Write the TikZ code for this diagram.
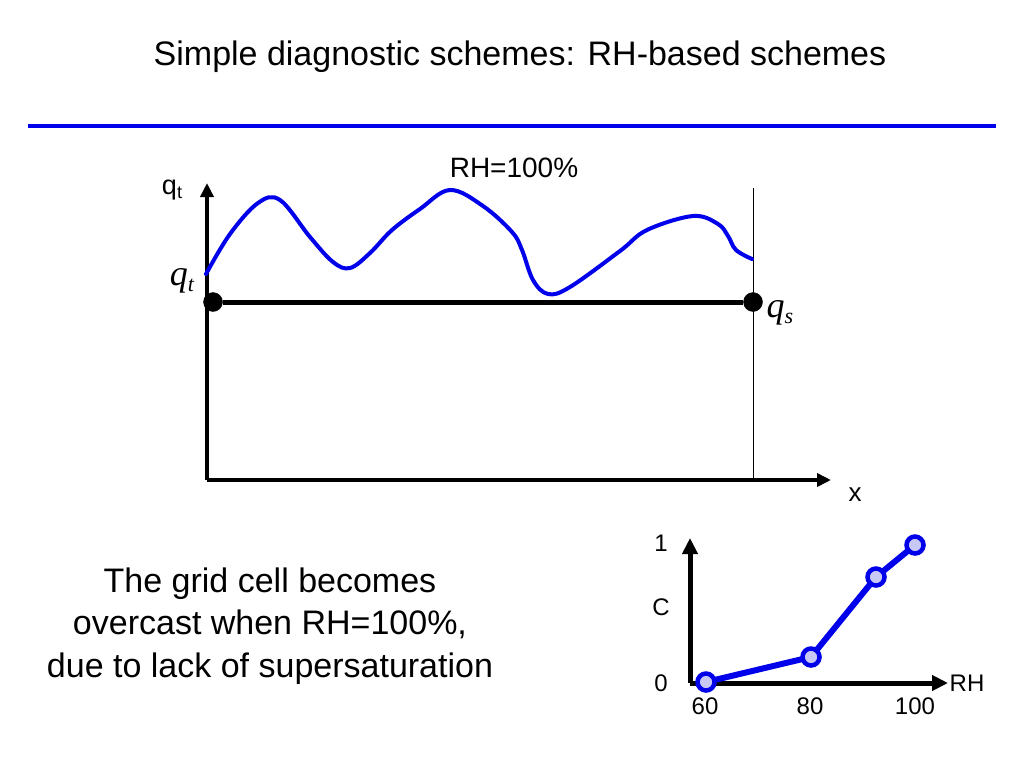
\documentclass[tikz,border=0pt]{standalone}
\usepackage{fontspec}
\setmainfont{Liberation Sans}
\newfontfamily\timesfont{Liberation Serif}
\usetikzlibrary{arrows.meta}
\definecolor{lineblue}{RGB}{0,0,235}
\definecolor{dotfill}{RGB}{200,200,245}

\begin{document}
\begin{tikzpicture}[x=1pt,y=-1pt]
\useasboundingbox (0,0) rectangle (1024,768);
\node(title) at (520,57){\fontsize{34}{40}\selectfont Simple diagnostic schemes: RH-based schemes};
\draw[lineblue, line width=4pt] (28,126) -- (996,126);
% big axes
\coordinate(o) at (207,480);
\coordinate(ytip) at (207,183);
\coordinate(xtip) at (831,480);
\draw[line width=4pt, -{Triangle[length=14pt,width=13pt]}] (o) -- (ytip);
\draw[line width=4pt, -{Triangle[length=14pt,width=13pt]}] (o) -- (xtip);
\node(qtax) at (172,190){\fontsize{27}{27}\selectfont q\raisebox{-0.3ex}{\fontsize{18}{18}\selectfont t}};
\node(xlab) at (855,495){\fontsize{26}{26}\selectfont x};
\node(rh) at (514,168){\fontsize{28}{28}\selectfont RH=100\%};
\coordinate(wtop) at (753,188);
\coordinate(wbot) at (753,480);
\draw[line width=1pt] (wtop) -- (wbot);
\draw[lineblue, line width=4pt, line cap=round] plot[smooth, tension=0.6] coordinates {
 (206,274) (230,234) (258,203) (280,200) (310,237) (333,262) (350,268) (370,253) (392,230)
 (420,209) (450,190) (483,206) (512,232) (522,250) (533,280) (548,294) (570,287)
 (620,251) (647,230) (693,216) (718,224) (728,236) (736,250) (752,259)};
\node[draw,circle,fill,inner sep=0pt,minimum size=19pt](l) at (213,302){};
\node[draw,circle,fill,inner sep=0pt,minimum size=19pt](r) at (753,302){};
\draw[line width=5pt] (l) -- (r);
\node(qt) at (182,281){\fontsize{36}{36}\timesfont\itshape q\raisebox{-0.35ex}{\fontsize{22}{22}\selectfont t}};
\node(qs) at (780,313){\fontsize{36}{36}\timesfont\itshape q\raisebox{-0.35ex}{\fontsize{22}{22}\selectfont s}};
% text
\node[align=center, font=\fontsize{34}{42.5}\selectfont](txt) at (270,626){The grid cell becomes\\overcast when RH=100\%,\\due to lack of supersaturation};
% small chart
\coordinate(co) at (690,683);
\coordinate(ctip) at (690,538);
\coordinate(rtip) at (948,683);
\draw[line width=5pt, -{Triangle[length=16pt,width=15pt]}] (co) -- (ctip);
\draw[line width=5pt, -{Triangle[length=16pt,width=15pt]}] (co) -- (rtip);
\node(one) at (661,543){\fontsize{24}{24}\selectfont 1};
\node(c) at (661,607){\fontsize{24}{24}\selectfont C};
\node(zero) at (661,683){\fontsize{24}{24}\selectfont 0};
\node(rhl) at (967,683){\fontsize{24}{24}\selectfont RH};
\node(s60) at (705,706){\fontsize{24}{24}\selectfont 60};
\node(s80) at (810,706){\fontsize{24}{24}\selectfont 80};
\node(s100) at (915,706){\fontsize{24}{24}\selectfont 100};
\draw[lineblue, line width=6pt] (706,682) -- (811,657) -- (876,577) -- (915,545);
\node[draw=lineblue,line width=4.5pt,circle,fill=dotfill,inner sep=0pt,minimum size=17pt](p1) at (706,682){};
\node[draw=lineblue,line width=4.5pt,circle,fill=dotfill,inner sep=0pt,minimum size=17pt](p2) at (811,657){};
\node[draw=lineblue,line width=4.5pt,circle,fill=dotfill,inner sep=0pt,minimum size=17pt](p3) at (876,577){};
\node[draw=lineblue,line width=4.5pt,circle,fill=dotfill,inner sep=0pt,minimum size=17pt](p4) at (915,545){};
\end{tikzpicture}
\end{document}
